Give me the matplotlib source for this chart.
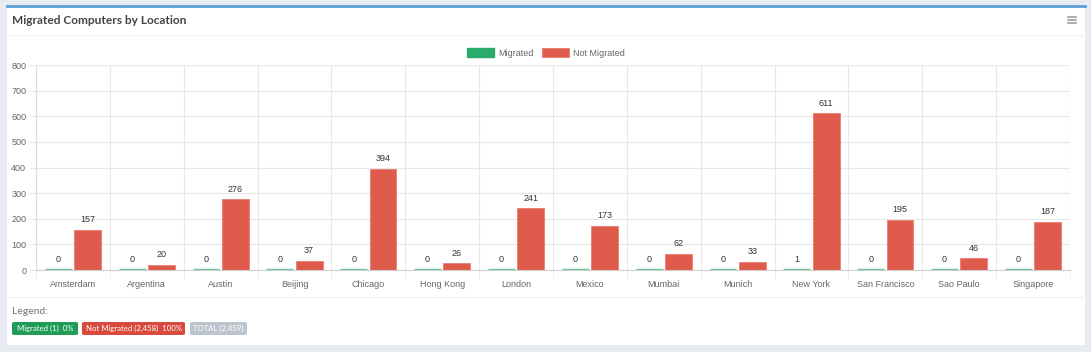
import numpy as np
import matplotlib.pyplot as plt
from matplotlib.patches import Rectangle, FancyBboxPatch
from matplotlib.lines import Line2D

locations = ['Amsterdam', 'Argentina', 'Austin', 'Beijing', 'Chicago', 'Hong Kong', 'London',
             'Mexico', 'Mumbai', 'Munich', 'New York', 'San Francisco', 'Sao Paulo', 'Singapore']
migrated = [0, 0, 0, 0, 0, 0, 0, 0, 0, 0, 1, 0, 0, 0]
not_migrated = [157, 20, 276, 37, 394, 26, 241, 173, 62, 33, 611, 195, 46, 187]
y_ticks = [0, 100, 200, 300, 400, 500, 600, 700, 800]

GREEN = '#2aab6c'
RED = '#df5c4d'
W, H = 1091, 352

plt.rcParams['font.family'] = ['Liberation Sans', 'DejaVu Sans']
UI_FONT = ['Lato', 'DejaVu Sans']

fig = plt.figure(figsize=(W / 100, H / 100), dpi=100)
fig.patch.set_facecolor('#e8ecf2')

def px(x, y):
    return x / W, 1 - y / H

# white panel + blue top line
fig.patches.append(Rectangle(px(7, 345), (1085 - 7) / W, (345 - 5) / H, transform=fig.transFigure,
                             facecolor='white', edgecolor='none', zorder=-5))
fig.lines.append(Line2D([7 / W, 1085 / W], [1 - 5.5 / H] * 2, transform=fig.transFigure,
                        color='#5b9fd6', lw=2, zorder=-4))
fig.lines.append(Line2D([7 / W, 1085 / W], [1 - 35 / H] * 2, transform=fig.transFigure,
                        color='#f2f2f2', lw=1, zorder=-4))
fig.lines.append(Line2D([7 / W, 1085 / W], [1 - 297 / H] * 2, transform=fig.transFigure,
                        color='#f2f2f2', lw=1, zorder=-4))

fig.text(*px(12, 20), 'Migrated Computers by Location', fontsize=8.6, color='#444444',
         family=UI_FONT, fontweight='bold', va='center', ha='left')
# hamburger icon
for dy in (-3, 0, 3):
    fig.lines.append(Line2D([1068 / W, 1076 / W], [1 - (20 + dy) / H] * 2,
                            transform=fig.transFigure, color='#a0a0a0', lw=1.2))

ax = fig.add_axes([36 / W, 1 - 270 / H, (1070 - 36) / W, (270 - 65) / H])
ax.patch.set_alpha(0)
x = np.arange(len(locations))
bw = 0.365
off = 0.198
ax.bar(x - off, migrated, bw, bottom=3, color='#6cc596', edgecolor='#6cc596', linewidth=1.0,
       zorder=3, label='Migrated')
ax.bar(x + off, not_migrated, bw, color=RED, edgecolor='#e77c70', linewidth=0.6, zorder=3,
       label='Not Migrated')

for i in range(len(locations)):
    ax.text(x[i] - off, migrated[i] + 24, str(migrated[i]), ha='center', va='bottom',
            fontsize=6.5, color='#333333')
    ax.text(x[i] + off, not_migrated[i] + 22, str(not_migrated[i]), ha='center', va='bottom',
            fontsize=6.5, color='#333333')

ax.set_xlim(-0.5, len(locations) - 0.5)
ax.set_ylim(0, 800)
ax.set_yticks(y_ticks)
ax.set_xticks(x)
ax.set_xticklabels(locations)
ax.set_xticks(np.arange(len(locations) + 1) - 0.5, minor=True)
ax.grid(True, axis='y', color='#e8e8e8', lw=0.8, zorder=0)
ax.grid(True, axis='x', which='minor', color='#e8e8e8', lw=0.8, zorder=0)
ax.tick_params(axis='x', which='major', length=0, labelsize=6.5, colors='#666666', pad=7)
ax.tick_params(axis='x', which='minor', length=6, color='#e8e8e8')
ax.tick_params(axis='y', length=4, labelsize=6.5, colors='#666666', pad=3)
ax.tick_params(axis='y', color='#e8e8e8')
for s in ['top', 'right']:
    ax.spines[s].set_visible(False)
ax.spines['left'].set_color('#dddddd')
ax.spines['bottom'].set_color('#d0d0d0')

leg = fig.legend(loc='center', bbox_to_anchor=(546 / W, 1 - 53 / H), ncol=2, frameon=False,
                 fontsize=6.5, handlelength=3.0, handleheight=1.0, columnspacing=0.9,
                 handletextpad=0.5, labelcolor='#666666')
leg.legend_handles[0].set_color(GREEN)

fig.text(*px(12, 311), 'Legend:', fontsize=7.5, color='#777777',
         family=UI_FONT, va='center')
badges = [('Migrated (1)  0%', '#1f9d57', 12, 78),
          ('Not Migrated (2,458)  100%', '#d84a3d', 82, 185),
          ('TOTAL (2,459)', '#bcc5ce', 190, 247)]
for txt, col, x0, x1 in badges:
    fig.patches.append(FancyBboxPatch(px(x0, 335), (x1 - x0) / W, 13 / H,
                                      boxstyle='round,pad=0,rounding_size=0.003',
                                      transform=fig.transFigure, facecolor=col, edgecolor='none'))
    fig.text(*px((x0 + x1) / 2, 328.5), txt, fontsize=5.6, color='white',
             family=UI_FONT, va='center', ha='center')

fig.savefig('out.png', dpi=100, facecolor=fig.get_facecolor())
